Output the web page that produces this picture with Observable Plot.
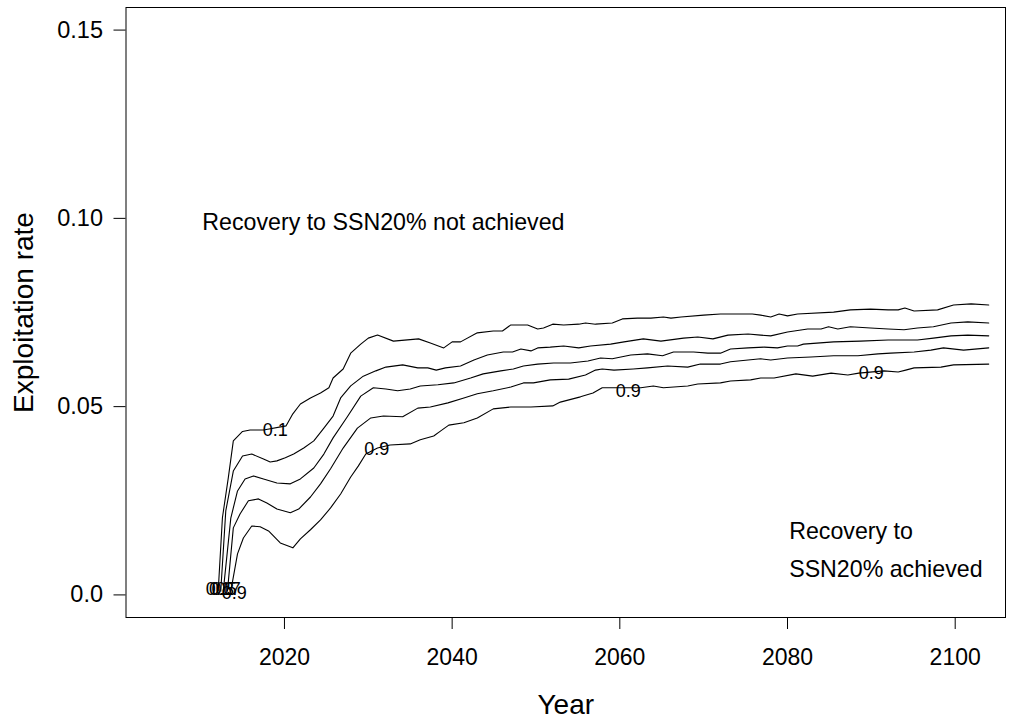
<!DOCTYPE html>
<html>
<head>
<meta charset="utf-8">
<script src="https://cdn.jsdelivr.net/npm/d3@7"></script>
<script src="https://cdn.jsdelivr.net/npm/@observablehq/plot@0.6"></script>
<style>
  html, body { margin: 0; padding: 0; background: #fff; overflow: hidden; }
  #chart svg { display: block; }
</style>
</head>
<body>
<div id="chart"></div>
<script>
// Contour levels (probability) and their lines: [year, exploitation rate]
const levels = ["0.1", "0.3", "0.5", "0.7", "0.9"];

const line01 = [[2012.1,0.0011],[2012.6,0.0205],[2013.3,0.0311],[2013.9,0.0409],[2015.0,0.0434],[2015.9,0.0438],[2017.5,0.0438],[2020.2,0.0449],[2021.0,0.0481],[2021.9,0.0507],[2023.1,0.0523],[2024.3,0.0536],[2025.3,0.0550],[2025.8,0.0576],[2027.0,0.0600],[2027.9,0.0642],[2029.1,0.0666],[2030.0,0.0682],[2031.1,0.0690],[2033.0,0.0674],[2036.0,0.0680],[2037.4,0.0669],[2039.0,0.0656],[2040.0,0.0672],[2041.0,0.0672],[2043.0,0.0696],[2044.9,0.0701],[2046.0,0.0701],[2047.0,0.0717],[2049.0,0.0717],[2050.2,0.0706],[2050.9,0.0709],[2052.0,0.0719],[2053.3,0.0717],[2055.1,0.0719],[2055.9,0.0722],[2057.1,0.0719],[2059.1,0.0722],[2060.3,0.0733],[2062.1,0.0735],[2063.7,0.0735],[2065.2,0.0738],[2066.1,0.0735],[2067.3,0.0738],[2070.0,0.0743],[2072.0,0.0746],[2074.1,0.0746],[2075.8,0.0746],[2076.8,0.0743],[2078.0,0.0738],[2079.0,0.0746],[2080.0,0.0741],[2081.2,0.0746],[2085.5,0.0751],[2087.5,0.0757],[2089.9,0.0759],[2092.0,0.0757],[2093.2,0.0757],[2094.0,0.0762],[2095.1,0.0754],[2097.9,0.0757],[2099.8,0.0770],[2101.9,0.0773],[2104.0,0.0770]];

const line03 = [[2012.4,0.0010],[2013.0,0.0223],[2013.9,0.0329],[2015.0,0.0369],[2016.1,0.0374],[2017.5,0.0361],[2018.3,0.0353],[2019.1,0.0356],[2020.1,0.0364],[2021.1,0.0374],[2022.3,0.0390],[2023.5,0.0409],[2024.7,0.0443],[2025.8,0.0475],[2026.7,0.0523],[2027.9,0.0555],[2029.4,0.0581],[2030.9,0.0595],[2032.1,0.0605],[2034.1,0.0611],[2035.9,0.0603],[2037.1,0.0603],[2038.1,0.0597],[2039.2,0.0603],[2041.0,0.0608],[2042.6,0.0624],[2044.2,0.0637],[2046.1,0.0645],[2047.2,0.0645],[2048.2,0.0653],[2049.4,0.0648],[2050.2,0.0656],[2051.7,0.0658],[2053.3,0.0661],[2055.1,0.0656],[2056.5,0.0661],[2058.9,0.0666],[2060.5,0.0672],[2062.8,0.0680],[2064.9,0.0674],[2067.6,0.0682],[2069.3,0.0685],[2071.1,0.0680],[2072.9,0.0690],[2075.3,0.0693],[2076.8,0.0690],[2078.0,0.0688],[2080.0,0.0698],[2082.4,0.0706],[2084.0,0.0706],[2084.9,0.0712],[2086.0,0.0706],[2087.5,0.0712],[2089.9,0.0709],[2092.0,0.0706],[2093.9,0.0704],[2095.5,0.0709],[2097.4,0.0712],[2099.5,0.0722],[2101.5,0.0725],[2104.0,0.0722]];

const line05 = [[2012.7,0.0010],[2013.6,0.0204],[2014.4,0.0276],[2015.3,0.0308],[2016.3,0.0316],[2017.5,0.0308],[2019.1,0.0297],[2020.7,0.0295],[2021.9,0.0308],[2023.5,0.0337],[2024.7,0.0374],[2025.8,0.0417],[2027.5,0.0473],[2029.1,0.0528],[2030.6,0.0550],[2032.1,0.0547],[2033.5,0.0542],[2035.0,0.0547],[2036.2,0.0555],[2038.3,0.0558],[2040.2,0.0563],[2042.2,0.0576],[2043.7,0.0587],[2045.8,0.0595],[2047.3,0.0600],[2048.5,0.0608],[2050.2,0.0613],[2052.1,0.0616],[2054.1,0.0616],[2056.2,0.0621],[2057.7,0.0629],[2059.1,0.0627],[2061.3,0.0637],[2063.3,0.0640],[2065.1,0.0635],[2066.4,0.0645],[2068.8,0.0645],[2070.5,0.0642],[2072.0,0.0642],[2073.2,0.0653],[2075.3,0.0656],[2077.2,0.0658],[2078.8,0.0656],[2080.0,0.0661],[2081.2,0.0661],[2081.9,0.0666],[2085.5,0.0672],[2088.7,0.0674],[2092.0,0.0677],[2095.5,0.0677],[2097.4,0.0682],[2099.5,0.0688],[2101.5,0.0690],[2104.0,0.0688]];

const line07 = [[2013.2,0.0010],[2013.9,0.0178],[2014.7,0.0215],[2015.7,0.0250],[2016.9,0.0255],[2017.9,0.0244],[2019.1,0.0228],[2020.7,0.0218],[2021.7,0.0228],[2023.1,0.0260],[2024.3,0.0295],[2025.5,0.0335],[2027.0,0.0390],[2028.7,0.0443],[2030.3,0.0470],[2031.8,0.0475],[2034.1,0.0473],[2035.9,0.0496],[2037.4,0.0499],[2039.5,0.0510],[2041.4,0.0523],[2043.0,0.0534],[2044.9,0.0542],[2047.0,0.0552],[2048.5,0.0563],[2049.7,0.0563],[2051.7,0.0571],[2053.9,0.0573],[2055.9,0.0584],[2057.1,0.0597],[2057.9,0.0600],[2059.3,0.0597],[2061.6,0.0600],[2063.3,0.0603],[2065.7,0.0608],[2068.1,0.0605],[2069.6,0.0613],[2072.0,0.0613],[2073.2,0.0619],[2075.3,0.0624],[2076.8,0.0627],[2078.0,0.0624],[2080.0,0.0629],[2082.8,0.0632],[2085.5,0.0635],[2088.4,0.0635],[2090.8,0.0640],[2092.3,0.0642],[2095.1,0.0645],[2097.1,0.0650],[2098.6,0.0656],[2101.0,0.0650],[2104.0,0.0656]];

const line09 = [[2013.6,0.0010],[2014.4,0.0109],[2015.1,0.0151],[2016.1,0.0183],[2017.1,0.0181],[2018.1,0.0170],[2019.5,0.0138],[2021.0,0.0125],[2021.9,0.0149],[2023.1,0.0173],[2024.3,0.0199],[2025.5,0.0231],[2026.7,0.0268],[2027.9,0.0313],[2028.8,0.0342],[2029.7,0.0374],[2031.1,0.0390],[2032.6,0.0398],[2035.0,0.0401],[2036.2,0.0412],[2037.8,0.0422],[2038.6,0.0435],[2039.6,0.0451],[2041.4,0.0457],[2043.0,0.0470],[2044.9,0.0494],[2047.0,0.0499],[2049.4,0.0499],[2052.0,0.0502],[2052.9,0.0512],[2055.3,0.0526],[2056.8,0.0536],[2057.9,0.0550],[2059.5,0.0550],[2062.5,0.0550],[2064.0,0.0555],[2065.2,0.0550],[2068.1,0.0555],[2069.3,0.0560],[2072.0,0.0563],[2073.2,0.0568],[2075.6,0.0571],[2076.8,0.0576],[2078.4,0.0576],[2081.0,0.0587],[2083.0,0.0581],[2085.2,0.0589],[2087.2,0.0584],[2088.5,0.0589],[2091.5,0.0595],[2093.2,0.0592],[2094.1,0.0597],[2095.1,0.0603],[2098.3,0.0605],[2099.8,0.0611],[2104.0,0.0613]];

// Contour labels placed along the lines
const labelText = ["0.1", "0.9", "0.9", "0.9", "0.1", "0.3", "0.5", "0.7", "0.9"];
const labelYear = [2018.9, 2031.0, 2061.0, 2090.0, 2012.1, 2012.5, 2012.8, 2013.3, 2014.0];
const labelRate = [0.0438, 0.0388, 0.0540, 0.0590, 0.0016, 0.0016, 0.0016, 0.0016, 0.0005];

// Axis ticks
const xTicks = [2020, 2040, 2060, 2080, 2100];
const yTicks = [0, 0.05, 0.10, 0.15];
const yTickLabels = ["0.0", "0.05", "0.10", "0.15"];

// Region annotations
const noteText = ["Recovery to SSN20% not achieved", "Recovery to", "SSN20% achieved"];
const noteYear = [2010.2, 2080.2, 2080.2];
const noteRate = [0.0990, 0.0168, 0.0068];

const lineSets = [line01, line03, line05, line07, line09];
const lineData = lineSets.flatMap((pts, k) => pts.map(([x, y]) => ({level: levels[k], x, y})));
const labels = labelText.map((t, i) => ({t, x: labelYear[i], y: labelRate[i]}));
const notes = noteText.map((t, i) => ({t, x: noteYear[i], y: noteRate[i]}));

const FONT = "'Liberation Sans', Arial, Helvetica, sans-serif";

const chart = Plot.plot({
  width: 1011,
  height: 719,
  marginLeft: 125.5,
  marginRight: 6,
  marginTop: 7,
  marginBottom: 102,
  style: {fontFamily: FONT, background: "white", color: "black"},
  x: {domain: [2001.1, 2106.0]},
  y: {domain: [-0.006, 0.156]},
  marks: [
    Plot.frame({stroke: "black", strokeWidth: 1}),
    Plot.axisX({ticks: xTicks, tickSize: 12, tickPadding: 19, fontSize: 23, tickFormat: d => String(d), label: null}),
    Plot.axisY({ticks: yTicks, tickSize: 12, tickPadding: 11, fontSize: 23.5, tickFormat: d => yTickLabels[yTicks.indexOf(d)], label: null}),
    Plot.line(lineData, {x: "x", y: "y", z: "level", stroke: "black", strokeWidth: 1.1, curve: "linear"}),
    Plot.text(labels, {x: "x", y: "y", text: "t", fontSize: 18, fill: "black"}),
    Plot.text(notes, {x: "x", y: "y", text: "t", fontSize: 23.2, textAnchor: "start", fill: "black"}),
    Plot.text(["Year"], {frameAnchor: "bottom", dy: 88, lineAnchor: "middle", textAnchor: "middle", text: d => d, fontSize: 28, fill: "black"}),
    Plot.text(["Exploitation rate"], {frameAnchor: "left", dx: -102, rotate: -90, textAnchor: "middle", lineAnchor: "middle", text: d => d, fontSize: 28, fill: "black"})
  ]
});
document.getElementById("chart").appendChild(chart);
</script>
</body>
</html>
